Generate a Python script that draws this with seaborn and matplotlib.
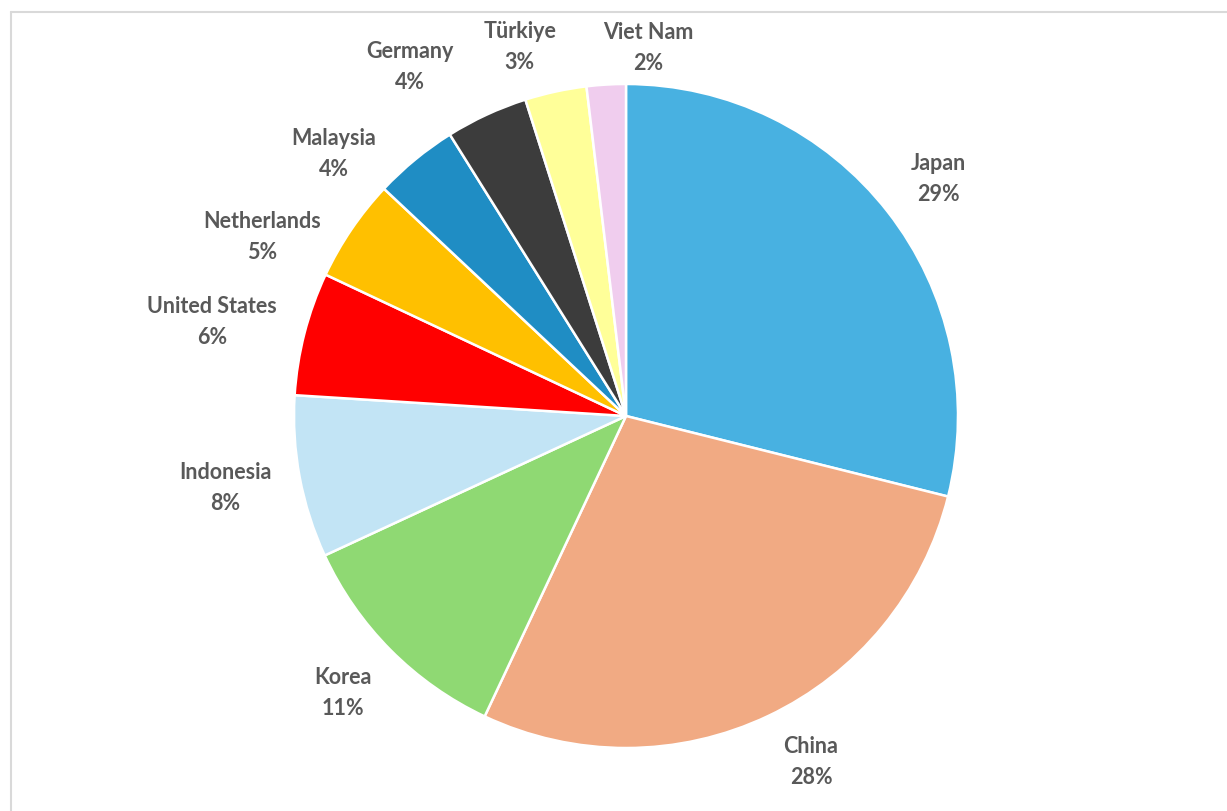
import matplotlib
matplotlib.use("Agg")
import matplotlib.pyplot as plt
from matplotlib.lines import Line2D
import numpy as np
import seaborn as sns

# Share of total by economy (%)
countries = ["Japan", "China", "Korea", "Indonesia", "United States",
             "Netherlands", "Malaysia", "Germany", "Türkiye", "Viet Nam"]
shares = [28.9, 28.1, 11.1, 7.9, 6.0, 5.0, 4.1, 4.0, 3.0, 1.9]
pct_labels = ["29%", "28%", "11%", "8%", "6%", "5%", "4%", "4%", "3%", "2%"]

slice_colors = ["#48B1E1", "#F1AA83", "#8FD973", "#C2E4F5", "#FF0000",
                "#FFC000", "#1F8DC4", "#3C3C3C", "#FFFF99", "#F0CDEE"]

# Label placement around the pie (radius in pie units, angle in degrees)
label_radius = [1.184, 1.179, 1.191, 1.226, 1.280, 1.223, 1.184, 1.238, 1.160, 1.113]
label_angle = [37.3, -61.8, -135.7, -170.0, 167.1, 153.7, 138.0, 121.7, 106.0, 86.6]

sns.set_theme(style="white")
plt.rcParams["font.family"] = ["Lato", "DejaVu Sans"]

W, H, DPI = 1227, 812, 100
fig = plt.figure(figsize=(W / DPI, H / DPI), dpi=DPI)
ax = fig.add_axes([0, 0, 1, 1])

# Pie centre and radius in pixels
cx, cy, R = 626, 417, 332

palette = sns.color_palette(slice_colors)
ax.pie(shares, colors=palette, startangle=90, counterclock=False, radius=1,
       wedgeprops=dict(edgecolor="white", linewidth=1.8), normalize=True)
ax.set_xlim(-cx / R, (W - cx) / R)
ax.set_ylim(-(H - cy) / R, cy / R)
ax.set_aspect("auto")
ax.axis("off")

for name, pct, r, a in zip(countries, pct_labels, label_radius, label_angle):
    t = np.deg2rad(a)
    ax.text(r * np.cos(t), r * np.sin(t), f"{name}\n{pct}", ha="center", va="center",
            fontsize=15.5, fontweight="bold", color="#595959", linespacing=1.6)

# Chart area frame
fig.add_artist(Line2D([11 / W, 11 / W], [0, 1 - 13 / H], transform=fig.transFigure,
                      color="#D9D9D9", linewidth=1.5))
fig.add_artist(Line2D([11 / W, 1], [1 - 13 / H, 1 - 13 / H], transform=fig.transFigure,
                      color="#D9D9D9", linewidth=1.5))

fig.savefig("out.png", dpi=DPI, facecolor="white")
